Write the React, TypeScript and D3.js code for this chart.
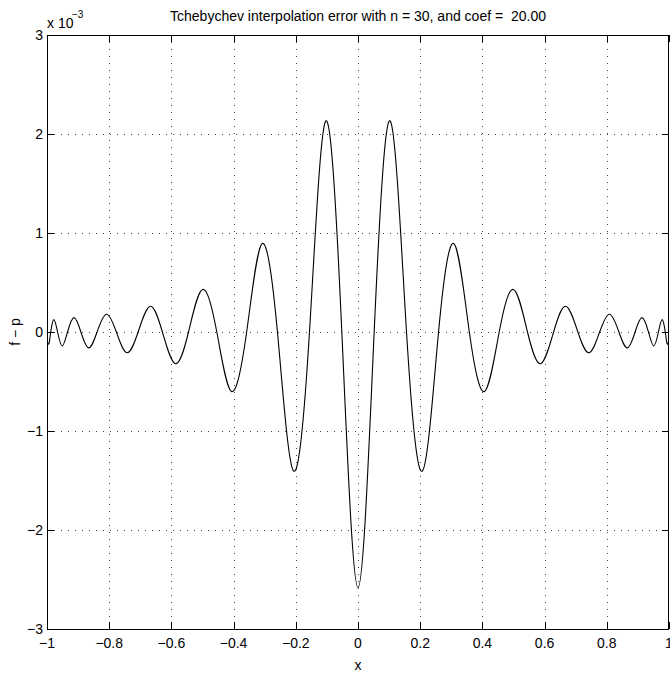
import React from "react";
import * as d3 from "d3";

// interpolation error (x 1e-3): extrema and zero crossings
const errX = [
  -1.0, -0.994, -0.988, -0.978, -0.966, -0.951, -0.934, -0.913, -0.891, -0.866,
  -0.839, -0.809, -0.777, -0.743, -0.707, -0.668, -0.629, -0.587, -0.545, -0.5,
  -0.454, -0.407, -0.358, -0.309, -0.259, -0.208, -0.156, -0.104, -0.052, 0,
  0.052, 0.104, 0.156, 0.208, 0.259, 0.309, 0.358, 0.407, 0.454, 0.5,
  0.545, 0.587, 0.629, 0.668, 0.707, 0.743, 0.777, 0.809, 0.839, 0.866,
  0.891, 0.913, 0.934, 0.951, 0.966, 0.978, 0.988, 0.994, 1.0,
];
const errY = [
  -0.09, -0.12, 0, 0.125, 0, -0.14, 0, 0.145, 0, -0.16,
  0, 0.18, 0, -0.21, 0, 0.26, 0, -0.32, 0, 0.43,
  0, -0.6, 0, 0.89, 0, -1.4, 0, 2.13, 0, -2.58,
  0, 2.13, 0, -1.4, 0, 0.89, 0, -0.6, 0, 0.43,
  0, -0.32, 0, 0.26, 0, -0.21, 0, 0.18, 0, -0.16,
  0, 0.145, 0, -0.14, 0, 0.125, 0, -0.12, -0.09,
];

const xTicks = [-1, -0.8, -0.6, -0.4, -0.2, 0, 0.2, 0.4, 0.6, 0.8, 1];
const yTicks = [-3, -2, -1, 0, 1, 2, 3];

const titleText = "Tchebychev interpolation error with n = 30, and coef =  20.00";

const W = 670;
const H = 675;
const margin = { top: 35, right: 1, bottom: 46, left: 47 };
const font = "'Liberation Sans Narrow', 'Arial Narrow', 'Liberation Sans', Arial, sans-serif";

const fmt = (v: number) => (v < 0 ? "\u2212" + String(-v) : String(v));

export default function App() {
  const pw = W - margin.left - margin.right;
  const ph = H - margin.top - margin.bottom;
  const x = d3.scaleLinear().domain([-1, 1]).range([margin.left, margin.left + pw]);
  const y = d3.scaleLinear().domain([-3, 3]).range([margin.top + ph, margin.top]);

  const pts: [number, number][] = errX.map((v, i) => [v, errY[i]]);
  const line = d3
    .line<[number, number]>()
    .x((d) => x(d[0]))
    .y((d) => y(d[1]))
    .curve(d3.curveNatural);

  const x0 = margin.left;
  const x1 = margin.left + pw;
  const y0 = margin.top;
  const y1 = margin.top + ph;
  const tl = 7;

  const xLabel = (v: number) => {
    if (v === 0) return "0";
    const s = Math.abs(v) === 1 ? "1" : String(Math.abs(v));
    return (v < 0 ? "\u2212" : "") + s;
  };

  return (
    <svg
      width={W}
      height={H}
      style={{ position: "absolute", left: 0, top: 0, background: "#fff" }}
      fontFamily={font}
    >
      <rect x={0} y={0} width={W} height={H} fill="#fff" />
      <clipPath id="plotClip">
        <rect x={x0} y={y0} width={pw} height={ph} />
      </clipPath>
      {/* grid */}
      <g stroke="#444" strokeWidth={1} strokeDasharray="1 6" shapeRendering="crispEdges">
        {xTicks.slice(1, -1).map((t) => (
          <line key={"gx" + t} x1={Math.round(x(t)) + 0.5} x2={Math.round(x(t)) + 0.5} y1={y0} y2={y1} />
        ))}
        {yTicks.slice(1, -1).map((t) => (
          <line key={"gy" + t} x1={x0} x2={x1} y1={Math.round(y(t)) + 0.5} y2={Math.round(y(t)) + 0.5} />
        ))}
      </g>
      {/* curve */}
      <path d={line(pts) ?? ""} fill="none" stroke="#000" strokeWidth={1.1} clipPath="url(#plotClip)" />
      {/* ticks */}
      <g stroke="#000" strokeWidth={1} shapeRendering="crispEdges">
        {xTicks.map((t) => (
          <g key={"tx" + t}>
            <line x1={Math.round(x(t)) + 0.5} x2={Math.round(x(t)) + 0.5} y1={y1} y2={y1 - tl} />
            <line x1={Math.round(x(t)) + 0.5} x2={Math.round(x(t)) + 0.5} y1={y0} y2={y0 + tl} />
          </g>
        ))}
        {yTicks.map((t) => (
          <g key={"ty" + t}>
            <line x1={x0} x2={x0 + tl} y1={Math.round(y(t)) + 0.5} y2={Math.round(y(t)) + 0.5} />
            <line x1={x1} x2={x1 - tl} y1={Math.round(y(t)) + 0.5} y2={Math.round(y(t)) + 0.5} />
          </g>
        ))}
        <rect x={x0 + 0.5} y={y0 + 0.5} width={pw - 1} height={ph} fill="none" stroke="#000" />
      </g>
      {/* tick labels */}
      <g fontSize={14} fill="#000">
        {xTicks.map((t) => (
          <text key={"lx" + t} x={x(t)} y={y1 + 19} textAnchor="middle">
            {xLabel(t)}
          </text>
        ))}
        {yTicks.map((t) => (
          <text key={"ly" + t} x={x0 - 4} y={y(t) + 5} textAnchor="end">
            {fmt(t)}
          </text>
        ))}
      </g>
      {/* exponent */}
      <text x={x0} y={28} fontSize={14}>
        x 10
      </text>
      <text x={x0 + 25} y={18} fontSize={10}>
        {"\u22123"}
      </text>
      {/* title and axis labels */}
      <text
        x={(x0 + x1) / 2}
        y={21}
        fontSize={14}
        textAnchor="middle"
        style={{ whiteSpace: "pre" }}
      >
        {titleText}
      </text>
      <text x={(x0 + x1) / 2} y={670} fontSize={14} textAnchor="middle">
        x
      </text>
      <text
        transform={`translate(20,${(y0 + y1) / 2}) rotate(-90)`}
        fontSize={14}
        textAnchor="middle"
      >
        {"f \u2212 p"}
      </text>
    </svg>
  );
}
